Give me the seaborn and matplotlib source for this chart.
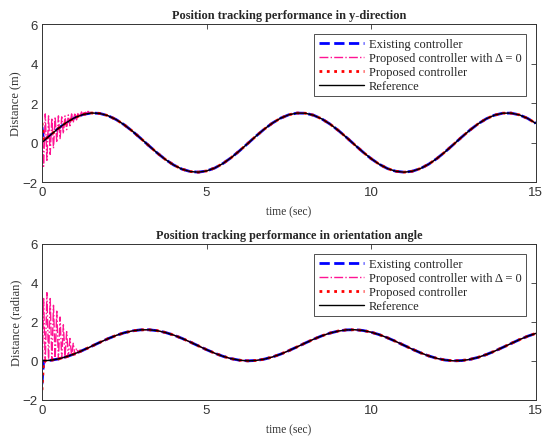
import numpy as np
import matplotlib
matplotlib.use("Agg")
import matplotlib.pyplot as plt
import seaborn as sns

# time grid of the steady part (sec)
t_ref = np.arange(0, 15.001, 0.25)
# dense grid used for the start-up transient
t_early = np.arange(0, 1.4501, 0.05)

# reference trajectories
y_ref = [0.000, 0.371, 0.719, 1.022, 1.262, 1.423, 1.496, 1.476, 1.364, 1.167,
         0.898, 0.573, 0.212, -0.162, -0.526, -0.857, -1.135, -1.343, -1.466, -1.499,
         -1.438, -1.288, -1.058, -0.762, -0.419, -0.050, 0.323, 0.675, 0.985, 1.235,
         1.407, 1.492, 1.484, 1.384, 1.198, 0.937, 0.618, 0.261, -0.113, -0.479,
         -0.816, -1.102, -1.320, -1.454, -1.500, -1.452, -1.313, -1.093, -0.805, -0.466,
         -0.099, 0.275, 0.630, 0.948, 1.206, 1.389, 1.486, 1.490, 1.402, 1.226, 0.975]
th_ref = [0.000, 0.025, 0.098, 0.215, 0.368, 0.548, 0.743, 0.943, 1.133, 1.303,
          1.441, 1.539, 1.592, 1.595, 1.549, 1.456, 1.323, 1.157, 0.969, 0.770,
          0.573, 0.390, 0.233, 0.111, 0.032, 0.000, 0.019, 0.086, 0.197, 0.345,
          0.523, 0.717, 0.916, 1.109, 1.282, 1.425, 1.529, 1.588, 1.598, 1.559,
          1.471, 1.343, 1.180, 0.994, 0.796, 0.598, 0.413, 0.252, 0.125, 0.040,
          0.002, 0.014, 0.074, 0.180, 0.324, 0.498, 0.691, 0.890, 1.084, 1.261, 1.408]

# proposed controller with Delta = 0, oscillating start (t = 0 ... 1.45)
y_delta0_early = [0.9, -1.2, 1.45, -0.9, 1.35, -0.6, 1.25, -0.3, 1.3, 0.0,
                  1.35, 0.2, 1.3, 0.45, 1.35, 0.65, 1.4, 0.85, 1.45, 1.0,
                  1.5, 1.15, 1.52, 1.28, 1.55, 1.38, 1.6, 1.45, 1.58, 1.5]
th_delta0_early = [-1.4, 3.2, -0.1, 3.5, 0.0, 3.2, 0.0, 2.85, 0.05, 2.55,
                   0.05, 2.25, 0.1, 1.85, 0.15, 1.5, 0.2, 1.15, 0.25, 0.9,
                   0.3, 0.65, 0.4, 0.55, 0.48, 0.55, 0.54, 0.6, 0.63, 0.7]

# existing / proposed controllers: short jump at t = 0 then on the reference
t_start = [0.0, 0.05]
y_exist_start = [0.8, 0.1]
y_prop_start = [1.0, 0.08]
th_exist_start = [-1.2, 0.0]
th_prop_start = [-1.5, 0.0]

labels = ["Existing controller", "Proposed controller with \u0394 = 0",
          "Proposed controller", "Reference"]

sns.set_style("white")
serif = ["Liberation Serif", "DejaVu Serif"]
plt.rcParams["font.family"] = ["Liberation Sans", "DejaVu Sans"]

fig = plt.figure(figsize=(5.45, 4.39), dpi=100)
ax_top = fig.add_axes([0.077, 0.583, 0.906, 0.360])
ax_bot = fig.add_axes([0.077, 0.087, 0.906, 0.355])


def draw(ax, ref, delta0_early, exist_start, prop_start, title, ylabel):
    t_ctrl = np.concatenate([t_start, t_ref[1:]])
    exist = list(exist_start) + list(ref[1:])
    prop = list(prop_start) + list(ref[1:])
    t_d0 = np.concatenate([t_early, t_ref[6:]])
    d0 = list(delta0_early) + list(ref[6:])

    sns.lineplot(x=t_ctrl, y=exist, ax=ax, color="#0000ff", linestyle="--",
                 dashes=(4, 2.2), linewidth=2, label=labels[0])
    sns.lineplot(x=t_d0, y=d0, ax=ax, color="#ff1493", linestyle="-.",
                 dashes=(3, 1.5, 1, 1.5), linewidth=1, label=labels[1])
    sns.lineplot(x=t_ctrl, y=prop, ax=ax, color="#ff0000", linestyle=":",
                 linewidth=2, label=labels[2])
    sns.lineplot(x=t_ref, y=ref, ax=ax, color="black", linewidth=1,
                 label=labels[3])

    ax.set_xlim(0, 15)
    ax.set_ylim(-2, 6)
    ax.set_xticks([0, 5, 10, 15])
    ax.set_yticks([-2, 0, 2, 4, 6])
    ax.tick_params(direction="in", top=True, right=True, length=3.5,
                   width=0.6, labelsize=9.5, colors="#333333", pad=3)
    for s in ax.spines.values():
        s.set_color("#333333")
        s.set_linewidth(0.7)
    ax.set_title(title, fontsize=8.8, fontweight="bold", family=serif, pad=4.5)
    ax.set_xlabel("time (sec)", fontsize=8.3, family=serif, color="#333333",
                  labelpad=5)
    ax.set_ylabel(ylabel, fontsize=9, family=serif, color="#333333", labelpad=0.5)
    leg = ax.legend(loc="upper right", handlelength=3.6,
                    labelspacing=0.15, borderpad=0.35, handletextpad=0.4,
                    borderaxespad=0.8, fancybox=False, framealpha=1,
                    edgecolor="#333333", prop={"family": serif, "size": 9})
    leg.get_frame().set_linewidth(0.6)


draw(ax_top, y_ref, y_delta0_early, y_exist_start, y_prop_start,
     "Position tracking performance in y-direction", "Distance (m)")
draw(ax_bot, th_ref, th_delta0_early, th_exist_start, th_prop_start,
     "Position tracking performance in orientation angle", "Distance (radian)")

fig.savefig("out.png", dpi=100, facecolor="white")
